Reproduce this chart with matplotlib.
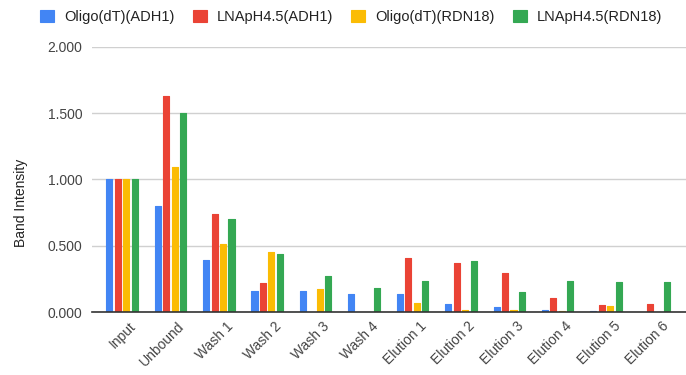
import numpy as np
import matplotlib.pyplot as plt
import matplotlib.transforms as mtransforms

plt.rcParams['font.family'] = ['Liberation Sans', 'DejaVu Sans']

# fractions collected along the purification
fractions = ["Input", "Unbound", "Wash 1", "Wash 2", "Wash 3", "Wash 4",
             "Elution 1", "Elution 2", "Elution 3", "Elution 4", "Elution 5", "Elution 6"]

oligo_adh1 = [1.000, 0.800, 0.390, 0.162, 0.162, 0.134, 0.137, 0.061, 0.035, 0.018, 0.010, 0.0]
lna_adh1 = [1.000, 1.633, 0.742, 0.218, 0.0, 0.0, 0.410, 0.367, 0.294, 0.109, 0.050, 0.063]
oligo_rdn18 = [1.000, 1.096, 0.514, 0.456, 0.172, 0.0, 0.071, 0.018, 0.018, 0.010, 0.043, 0.0]
lna_rdn18 = [1.000, 1.501, 0.704, 0.440, 0.273, 0.182, 0.235, 0.382, 0.154, 0.235, 0.225, 0.225]

series = [
    ("Oligo(dT)(ADH1)", oligo_adh1, "#4285F4"),
    ("LNApH4.5(ADH1)", lna_adh1, "#EA4335"),
    ("Oligo(dT)(RDN18)", oligo_rdn18, "#FBBC04"),
    ("LNApH4.5(RDN18)", lna_rdn18, "#34A853"),
]

fig = plt.figure(figsize=(6.86, 3.75), dpi=100)
ax = fig.add_axes([0.134, 0.168, 0.866, 0.707])

x = np.arange(len(fractions))
step = 0.175
width = 0.125
for i, (name, vals, col) in enumerate(series):
    vals = np.asarray(vals)
    bars = ax.bar(x + (i - 1.5) * step, vals, width=width, color=col,
                  label=name, zorder=3)
    for b, v in zip(bars, vals):
        if v > 0:
            b.set_edgecolor(col)
            b.set_linewidth(0.8)
            b.set_joinstyle("round")

ax.set_xlim(-0.62, 11.65)
ax.set_ylim(0, 2.0)
yt = [0, 0.5, 1.0, 1.5, 2.0]
ax.set_yticks(yt)
ax.set_yticklabels([f"{v:.3f}" for v in yt], fontsize=10, color="#444444")
ax.set_xticks(x)
ax.set_xticklabels(fractions, rotation=45, ha="right", rotation_mode="anchor",
                   fontsize=10, color="#444444")
ax.tick_params(axis="y", length=0, pad=7)
ax.tick_params(axis="x", length=0, pad=5)

# nudge the slanted category labels so they end just right of each group
shift = mtransforms.ScaledTranslation(7 / 100, 0, fig.dpi_scale_trans)
for lbl in ax.get_xticklabels():
    lbl.set_transform(lbl.get_transform() + shift)

ax.grid(axis="y", color="#d0d0d0", linewidth=1, zorder=0)
for s in ("top", "right", "left"):
    ax.spines[s].set_visible(False)
ax.spines["bottom"].set_color("#333333")
ax.spines["bottom"].set_linewidth(1.2)
ax.spines["bottom"].set_zorder(4)

ax.set_ylabel("Band Intensity", fontsize=10, color="#222222")
ax.yaxis.set_label_coords(-0.108, 0.41)

fig.legend(loc="center left", bbox_to_anchor=(40 / 686, 1 - 17 / 375), ncol=4,
           frameon=False, fontsize=10.5, handlelength=0.95, handleheight=0.95,
           columnspacing=1.25, handletextpad=0.7, borderpad=0, borderaxespad=0,
           labelcolor="#222222")

fig.savefig("out.png", dpi=100)
